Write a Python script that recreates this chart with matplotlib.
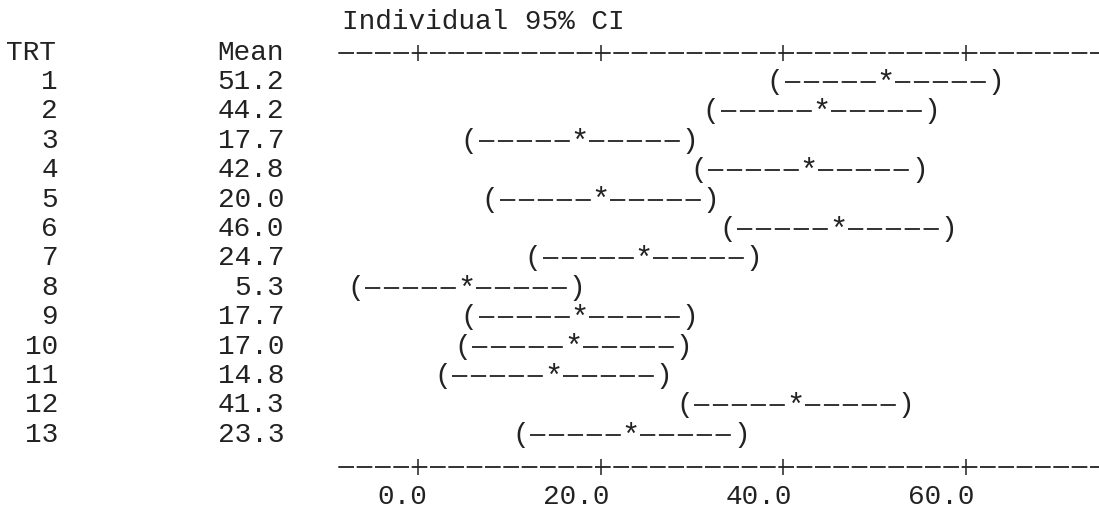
import matplotlib
matplotlib.use('Agg')
import matplotlib.pyplot as plt
import matplotlib.transforms as mtransforms

plt.rcParams['lines.scale_dashes'] = False

# ---------------- data ----------------
trt = ['1', '2', '3', '4', '5', '6', '7', '8', '9', '10', '11', '12', '13']
means = [51.2, 44.2, 17.7, 42.8, 20.0, 46.0, 24.7, 5.3, 17.7, 17.0, 14.8, 41.3, 23.3]
lower = [39.1, 32.1, 5.6, 30.7, 7.9, 33.9, 12.6, -6.8, 5.6, 4.9, 2.7, 29.2, 11.2]
upper = [63.3, 56.3, 29.8, 54.9, 32.1, 58.1, 36.8, 17.4, 29.8, 29.1, 26.9, 53.4, 35.4]
xticks = [0, 20, 40, 60]
xticklabels = ['0.0', '20.0', '40.0', '60.0']
title = 'Individual 95% CI'
header_trt = 'TRT'
header_mean = 'Mean'

# ---------------- styling / layout ----------------
W, H, DPI = 1099, 511, 100
FONT = 'Liberation Mono'
INK = '#222222'
FS = 20

fig = plt.figure(figsize=(W / DPI, H / DPI), dpi=DPI)
fig.patch.set_facecolor('white')


def fx(px):
    return px / W


def fy(py):
    return 1 - py / H


ax_left, ax_right, ax_top, ax_bot = 337, 1099, 53, 467
ax = fig.add_axes([fx(ax_left), fy(ax_bot), (ax_right - ax_left) / W, (ax_bot - ax_top) / H])
ax.set_facecolor('none')

x0_px, x60_px = 418, 966
ppu = (x60_px - x0_px) / 60.0
ax.set_xlim((ax_left - x0_px) / ppu, (ax_right - x0_px) / ppu)
row1_px, step = 82, 29.4
ax.set_ylim(1 + (ax_bot - row1_px) / step, 1 + (ax_top - row1_px) / step)

# text-style axes: dashed lines with '+' ticks
dash_on, dash_off = 10.0, 3.2
for side in ('left', 'right'):
    ax.spines[side].set_visible(False)
for side in ('top', 'bottom'):
    sp = ax.spines[side]
    sp.set_linestyle((dash_on + dash_off / 2, (dash_on, dash_off)))
    sp.set_linewidth(1.3)
    sp.set_color(INK)

ax.set_yticks([])
ax.set_xticks(xticks)
ax.set_xticklabels(xticklabels, fontfamily=FONT, fontsize=FS, color=INK)
ax.tick_params(axis='x', direction='inout', length=11, width=1.1, color=INK,
               top=True, bottom=True, labeltop=False, labelbottom=True, pad=7)
offset = mtransforms.ScaledTranslation(9 / DPI, 0, fig.dpi_scale_trans)
for lab in ax.get_xticklabels():
    lab.set_horizontalalignment('right')
    lab.set_transform(lab.get_transform() + offset)

# header and title
fig.text(fx(342), fy(22), title, fontfamily=FONT, fontsize=FS, color=INK,
         ha='left', va='center')
fig.text(fx(6), fy(53), header_trt, fontfamily=FONT, fontsize=FS, color=INK,
         ha='left', va='center')
fig.text(fx(284), fy(53), header_mean, fontfamily=FONT, fontsize=FS, color=INK,
         ha='right', va='center')

# row labels (figure x, data y)
tr = mtransforms.blended_transform_factory(fig.transFigure, ax.transData)
for i, (t, m) in enumerate(zip(trt, means)):
    y = i + 1
    ax.text(fx(58), y, t, transform=tr, fontfamily=FONT, fontsize=FS, color=INK,
            ha='right', va='center')
    ax.text(fx(284), y, f'{m:.1f}', transform=tr, fontfamily=FONT, fontsize=FS,
            color=INK, ha='right', va='center')

# confidence intervals
gap = 9.5 / ppu
ci_dash = (0, (11.0, 2.6))
for i, (lo, m, hi) in enumerate(zip(lower, means, upper)):
    y = i + 1
    ax.text(lo, y, '(', fontfamily=FONT, fontsize=FS, color=INK, ha='center', va='center')
    ax.text(hi, y, ')', fontfamily=FONT, fontsize=FS, color=INK, ha='center', va='center')
    ax.text(m, y + 0.06, '*', fontfamily=FONT, fontsize=FS + 2, color=INK,
            ha='center', va='center')
    ax.plot([lo + gap, m - gap], [y, y], color=INK, lw=1.3, linestyle=ci_dash,
            solid_capstyle='butt', dash_capstyle='butt')
    ax.plot([m + gap, hi - gap], [y, y], color=INK, lw=1.3, linestyle=ci_dash,
            solid_capstyle='butt', dash_capstyle='butt')

fig.savefig('out.png', dpi=DPI, facecolor='white')
